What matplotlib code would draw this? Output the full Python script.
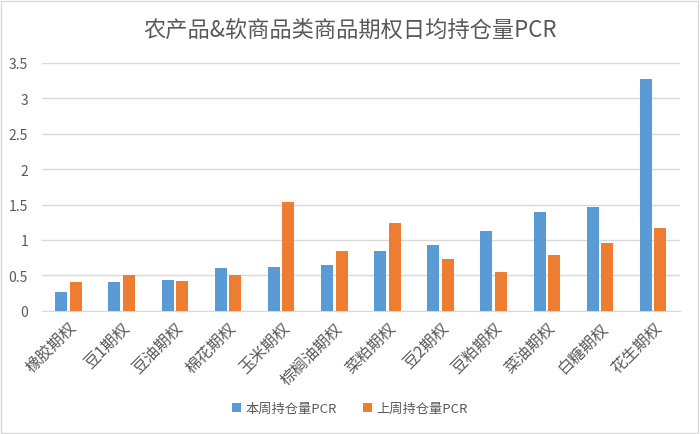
import numpy as np
import matplotlib
matplotlib.use("Agg")
import matplotlib.pyplot as plt
from matplotlib.patches import Rectangle

plt.rcParams['font.family'] = ['Noto Sans CJK SC', 'DejaVu Sans']

categories = ["橡胶期权", "豆1期权", "豆油期权", "棉花期权", "玉米期权", "棕榈油期权",
              "菜粕期权", "豆2期权", "豆粕期权", "菜油期权", "白糖期权", "花生期权"]
this_week = [0.27, 0.40, 0.43, 0.60, 0.62, 0.645, 0.85, 0.93, 1.12, 1.39, 1.47, 3.28]
last_week = [0.41, 0.51, 0.42, 0.51, 1.53, 0.84, 1.24, 0.73, 0.54, 0.79, 0.95, 1.17]
yticks = [0, 0.5, 1, 1.5, 2, 2.5, 3, 3.5]
ytick_labels = ["0", "0.5", "1", "1.5", "2", "2.5", "3", "3.5"]

blue = "#5b9bd5"
orange = "#ed7d31"
grey = "#595959"

fig = plt.figure(figsize=(7, 4.35), dpi=100)
ax = fig.add_axes([0.06, 0.2835, 0.911, 0.5695])

x = np.arange(len(categories))
w = 0.225
ax.bar(x - 0.137, this_week, w, color=blue, label="本周持仓量PCR", zorder=3)
ax.bar(x + 0.137, last_week, w, color=orange, label="上周持仓量PCR", zorder=3)

ax.set_xlim(-0.5, len(categories) - 0.5)
ax.set_ylim(0, 3.5)
ax.set_yticks(yticks)
ax.set_yticklabels(ytick_labels)
ax.set_xticks(x)
ax.set_xticklabels(categories, rotation=45, ha="right", va="top", rotation_mode="anchor",
                   fontsize=11.5)
ax.yaxis.grid(True, color="#d9d9d9", linewidth=1, zorder=0)
for s in ["top", "right", "left"]:
    ax.spines[s].set_visible(False)
ax.spines["bottom"].set_color("#d9d9d9")
ax.tick_params(axis="both", length=0, colors=grey)
ax.tick_params(axis="y", pad=10, labelsize=10)
ax.tick_params(axis="x", pad=6)

fig.text(0.5, 0.93, "农产品&软商品类商品期权日均持仓量PCR", ha="center", va="center",
         fontsize=16, color=grey)

fig.legend(loc="center", bbox_to_anchor=(0.5, 0.058), ncol=2, frameon=False,
           fontsize=9.5, labelcolor=grey, handlelength=0.7, handleheight=0.7,
           handletextpad=0.3, columnspacing=2.0)

fig.patches.append(Rectangle((0.002, 0.003), 0.995, 0.993, transform=fig.transFigure,
                             fill=False, edgecolor="#d9d9d9", linewidth=1))

fig.savefig("out.png", dpi=100, facecolor="white")
